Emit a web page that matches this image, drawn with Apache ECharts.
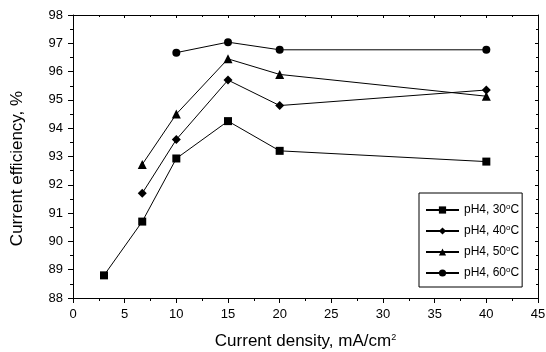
<!DOCTYPE html>
<html>
<head>
<meta charset="utf-8">
<script src="https://cdn.jsdelivr.net/npm/echarts@6/dist/echarts.min.js"></script>
<style>
  html, body { margin: 0; padding: 0; background: #fff; }
  #chart { width: 546px; height: 352px; }
</style>
</head>
<body>
<div id="chart"></div>
<script>
// current efficiency vs current density, four bath temperatures at pH4
const temps = ['30', '40', '50', '60'];
const symbols = ['rect', 'diamond', 'triangle', 'circle'];
const sizes = [8, 9, 9, 8];

const ce30 = [[3, 88.8], [6.7, 90.7], [10, 92.93], [15, 94.25], [20, 93.2], [40, 92.82]];
const ce40 = [[6.7, 91.7], [10, 93.6], [15, 95.7], [20, 94.8], [40, 95.35]];
const ce50 = [[6.7, 92.72], [10, 94.5], [15, 96.45], [20, 95.9], [40, 95.13]];
const ce60 = [[10, 96.67], [15, 97.04], [20, 96.77], [40, 96.77]];
const seriesData = [ce30, ce40, ce50, ce60];

const INK = '#000';
const FONT = '"Liberation Sans", Arial, sans-serif';

const chart = echarts.init(document.getElementById('chart'), null, { renderer: 'canvas' });

const axisCommon = {
  axisLine: { show: true, onZero: false, lineStyle: { color: INK, width: 1 } },
  splitLine: { show: false },
  axisLabel: { color: INK, fontSize: 13, fontFamily: FONT },
};

chart.setOption({
  animation: false,
  // fixed plot box; don't let the axis titles push it around
  grid: { left: 73, right: 8, top: 15, bottom: 54, containLabel: false, outerBoundsMode: 'none' },
  legend: {
    orient: 'vertical',
    left: 419, top: 193,
    itemWidth: 33, itemHeight: 9, itemGap: 8,
    padding: [10, 3, 8, 6],
    borderColor: INK, borderWidth: 1,
    textStyle: {
      color: INK, fontSize: 12, fontFamily: FONT,
      rich: { s: { fontSize: 8, verticalAlign: 'top', padding: [0, 0, 6, 0], color: INK, fontFamily: FONT } },
    },
    formatter: (n) => n.replace('oC', '{s|o}C'),
    data: temps.map((t) => 'pH4, ' + t + 'oC'),
  },
  xAxis: [{
    type: 'value', min: 0, max: 45, interval: 5,
    ...axisCommon,
    axisTick: { show: true, inside: false, length: 5, lineStyle: { color: INK } },
    minorTick: { show: true, splitNumber: 2, length: 3, lineStyle: { color: INK } },
    axisLabel: { ...axisCommon.axisLabel, margin: 10 },
    name: 'Current density, mA/cm{s|2}',
    nameLocation: 'middle', nameGap: 35,
    nameTextStyle: {
      color: INK, fontSize: 17, fontFamily: FONT,
      rich: { s: { fontSize: 9, verticalAlign: 'top', padding: [0, 0, 8, 0], color: INK, fontFamily: FONT } },
    },
  }, {
    type: 'value', min: 0, max: 45, interval: 5, position: 'top',
    ...axisCommon,
    axisTick: { show: true, inside: true, length: 3, lineStyle: { color: INK } },
    minorTick: { show: true, splitNumber: 2, length: 2, lineStyle: { color: INK } },
    axisLabel: { show: false },
  }],
  yAxis: [{
    type: 'value', min: 88, max: 98, interval: 1,
    ...axisCommon,
    axisTick: { show: true, inside: false, length: 5, lineStyle: { color: INK } },
    minorTick: { show: true, splitNumber: 2, length: 3, lineStyle: { color: INK } },
    axisLabel: { ...axisCommon.axisLabel, margin: 10 },
    name: 'Current efficiency, %',
    nameLocation: 'middle', nameGap: 47,
    // nudged down a little, as in the source figure
    nameTextStyle: { color: INK, fontSize: 17, fontFamily: FONT, padding: [0, 24, 0, 0] },
  }, {
    type: 'value', min: 88, max: 98, interval: 1, position: 'right',
    ...axisCommon,
    axisTick: { show: true, inside: true, length: 3, lineStyle: { color: INK } },
    minorTick: { show: true, splitNumber: 2, length: 2, lineStyle: { color: INK } },
    axisLabel: { show: false },
  }],
  series: seriesData.map((d, i) => ({
    type: 'line',
    name: 'pH4, ' + temps[i] + 'oC',
    data: d,
    symbol: symbols[i],
    symbolSize: sizes[i],
    showAllSymbol: true,
    lineStyle: { color: INK, width: 1 },
    itemStyle: { color: INK },
    emphasis: { disabled: true },
  })),
});
</script>
</body>
</html>
